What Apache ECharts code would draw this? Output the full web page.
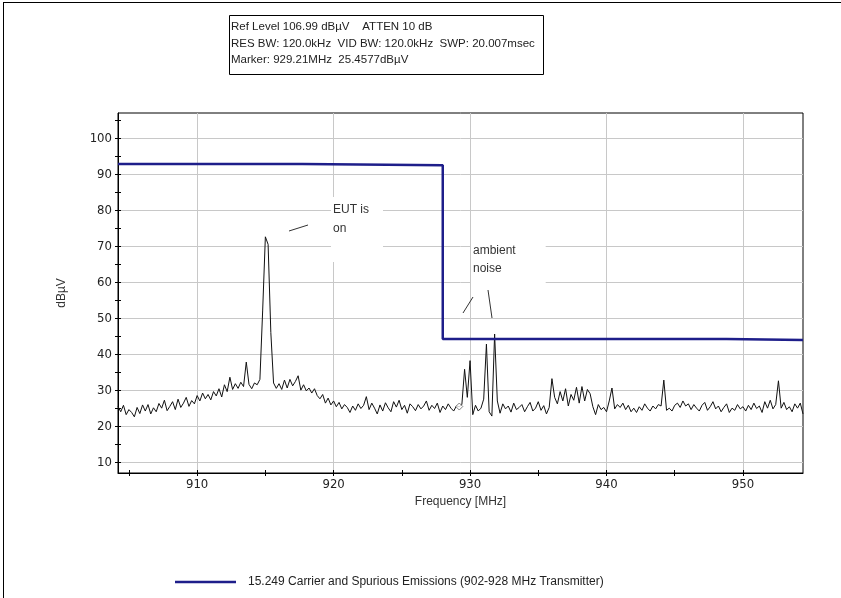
<!DOCTYPE html>
<html>
<head>
<meta charset="utf-8">
<script src="https://cdn.jsdelivr.net/npm/echarts@6/dist/echarts.min.js"></script>
<style>
  html, body { margin: 0; padding: 0; background: #fff; }
  #chart { width: 841px; height: 598px; }
</style>
</head>
<body>
<div id="chart"></div>
<script>
// sweep: 904.2 MHz .. 954.4 MHz, one reading every 0.2 MHz
const sweepStart = 904.2
const sweepStep = 0.2
const traceLevels = [
  25.5, 24.0, 25.8, 23.2, 24.6, 23.8, 22.6, 25.2, 23.5, 25.9,
  24.2, 26.0, 23.4, 25.1, 24.0, 26.3, 25.0, 27.2, 24.3, 25.5,
  26.8, 24.6, 27.5, 25.2, 26.4, 28.0, 25.5, 27.1, 26.2, 28.5,
  27.0, 29.2, 27.6, 28.8, 27.3, 29.6, 28.4, 30.4, 28.1, 31.5,
  29.6, 33.6, 30.2, 31.8, 30.5, 32.2, 31.0, 37.8, 31.6, 30.4,
  32.0, 31.5, 33.0, 52.0, 72.6, 70.5, 46.0, 32.0, 30.5, 31.8,
  30.2, 32.8, 30.6, 33.0, 31.2, 32.4, 34.0, 30.0, 31.5, 29.8,
  30.6, 29.2, 30.4, 28.5, 27.6, 28.8, 26.4, 27.8, 25.9, 27.0,
  25.4, 26.6, 24.8, 26.0, 25.2, 23.8, 25.6, 24.4, 26.2, 24.9,
  25.8, 28.2, 24.6, 26.4, 25.0, 23.4, 25.9, 24.2, 26.5, 25.1,
  24.0, 26.8, 25.3, 27.2, 24.6, 25.8, 23.6, 26.2, 25.4, 24.3,
  26.0, 24.8, 25.6, 27.0, 24.4, 25.8, 24.9, 26.4, 23.8, 25.6,
  24.6, 26.2, 25.0, 24.2, 25.6, 25.4, 26.0, 35.8, 28.0, 38.2,
  23.2, 25.8, 24.2, 25.0, 27.5, 42.8, 24.0, 22.8, 45.6, 27.0,
  23.6, 26.2, 24.8, 25.6, 23.9, 26.4, 24.6, 25.2, 26.0, 24.0,
  25.4, 26.6, 24.2, 25.0, 26.8, 24.4, 25.7, 23.4, 25.2, 33.2,
  28.0, 26.2, 29.6, 27.0, 30.4, 25.6, 28.8, 27.2, 30.8, 26.4,
  31.0, 27.0, 30.2, 29.0, 25.4, 23.2, 26.0, 24.6, 25.2, 24.0,
  27.0, 30.6, 24.8, 26.0, 25.2, 26.4, 24.6, 25.8, 24.0, 25.0,
  23.8, 25.4, 24.4, 26.2, 25.0, 24.2, 25.6, 24.8, 26.0, 25.6,
  32.8, 24.4, 25.0, 24.2, 25.8, 26.4, 25.2, 27.0, 25.6, 26.2,
  24.6, 26.0, 25.0, 24.2, 25.8, 26.6, 24.4, 25.4, 26.8, 24.8,
  25.6, 24.0, 25.2, 26.2, 23.8, 25.0, 24.4, 26.0, 24.8, 25.4,
  24.2, 25.8, 24.6, 26.4, 24.9, 25.6, 23.8, 26.8, 25.0, 27.2,
  24.8, 26.0, 32.6, 25.0, 26.6, 24.6, 25.4, 24.0, 26.2, 25.0,
  26.4, 23.4
]

const limitName = "15.249 Carrier and Spurious Emissions (902-928 MHz Transmitter)"
const limitFreqs = [904.2, 917.7, 917.7, 928.0, 928.0, 948.8, 948.8, 954.4]
const limitLevels = [92.8, 92.8, 92.5, 92.5, 44.2, 44.2, 43.9, 43.9]

const markerPoint = [929.21, 25.4577]

const freqLabels = [910, 920, 930, 940, 950]
const freqTicks = [905, 910, 915, 920, 925, 930, 935, 940, 945, 950]
const levelLabels = [10, 20, 30, 40, 50, 60, 70, 80, 90, 100]
const levelTicks = [10, 15, 20, 25, 30, 35, 40, 45, 50, 55, 60, 65, 70, 75, 80, 85, 90, 95, 100, 105]

const headerLines = [
  "Ref Level 106.99 dB\u00b5V    ATTEN 10 dB",
  "RES BW: 120.0kHz  VID BW: 120.0kHz  SWP: 20.007msec",
  "Marker: 929.21MHz  25.4577dB\u00b5V",
]

const chart = echarts.init(document.getElementById("chart"))

const traceData = traceLevels.map((v, i) => [+(sweepStart + i * sweepStep).toFixed(1), v])
const limitData = limitFreqs.map((f, i) => [f, limitLevels[i]])

const textFont = "'Liberation Sans', Arial, sans-serif"
const tickFont = "'Liberation Sans Narrow', 'DejaVu Sans Condensed', 'Liberation Sans', sans-serif"
const xMin = 904.2, xMax = 954.4
const yMin = 6.99, yMax = 106.99

const gridColor = "#c8c8c8"
const limitColor = "#1e1e8a"

const option = {
  backgroundColor: "#fff",
  animation: false,
  grid: {
    left: 118,
    right: 38,
    top: 113,
    bottom: 125,
    show: true,
    borderColor: "#000",
    borderWidth: 1,
  },
  legend: {
    data: [limitName],
    left: 170,
    top: 571,
    icon: "rect",
    itemWidth: 61,
    itemHeight: 2.5,
    textStyle: {
      fontFamily: textFont,
      fontSize: 12,
      color: "#222",
      padding: [0, 0, 0, 7],
    },
  },
  xAxis: [
    {
      type: "value",
      position: "bottom",
      min: xMin,
      max: xMax,
      name: "Frequency [MHz]",
      nameLocation: "middle",
      nameGap: 17,
      nameTextStyle: { fontFamily: textFont, fontSize: 12, color: "#333" },
      axisLine: { show: true, lineStyle: { color: "#000", width: 1 } },
      axisTick: { show: true, customValues: freqTicks, length: 3, lineStyle: { color: "#000" } },
      axisLabel: { customValues: freqLabels, margin: 5, fontFamily: tickFont, fontSize: 13, color: "#222" },
      splitLine: { show: false },
    },
    {
      type: "value",
      position: "bottom",
      min: xMin,
      max: xMax,
      axisLine: { show: false },
      axisTick: { show: false, customValues: freqLabels },
      axisLabel: { show: false },
      splitLine: { show: true, lineStyle: { color: gridColor, width: 1 } },
    },
    {
      type: "value",
      position: "bottom",
      min: xMin,
      max: xMax,
      axisLine: { show: false },
      axisTick: { show: true, inside: true, customValues: freqTicks, length: 3, lineStyle: { color: "#000" } },
      axisLabel: { show: false },
      splitLine: { show: false },
    },
  ],
  yAxis: [
    {
      type: "value",
      position: "left",
      min: yMin,
      max: yMax,
      name: "dB\u00b5V",
      nameLocation: "middle",
      nameGap: 50,
      nameTextStyle: { fontFamily: textFont, fontSize: 12, color: "#333" },
      axisLine: { show: true, lineStyle: { color: "#000", width: 1 } },
      axisTick: { show: true, customValues: levelTicks, length: 3, lineStyle: { color: "#000" } },
      axisLabel: { customValues: levelLabels, margin: 6, fontFamily: tickFont, fontSize: 13, color: "#222" },
      splitLine: { show: false },
    },
    {
      type: "value",
      position: "left",
      min: yMin,
      max: yMax,
      axisLine: { show: false },
      axisTick: { show: false, customValues: levelLabels },
      axisLabel: { show: false },
      splitLine: { show: true, lineStyle: { color: gridColor, width: 1 } },
    },
    {
      type: "value",
      position: "left",
      min: yMin,
      max: yMax,
      axisLine: { show: false },
      axisTick: { show: true, inside: true, customValues: levelTicks, length: 3, lineStyle: { color: "#000" } },
      axisLabel: { show: false },
      splitLine: { show: false },
    },
  ],
  series: [
    {
      name: "trace",
      type: "line",
      data: traceData,
      symbol: "none",
      lineStyle: { color: "#111", width: 1 },
      z: 3,
    },
    {
      name: "marker",
      type: "scatter",
      data: [markerPoint],
      symbol: "diamond",
      symbolSize: 7,
      itemStyle: { color: "#fff", borderColor: "#666", borderWidth: 1 },
      z: 4,
    },
    {
      name: limitName,
      type: "line",
      data: limitData,
      symbol: "none",
      color: limitColor,
      lineStyle: { color: limitColor, width: 2.5 },
      z: 5,
    },
  ],
  graphic: [
    // outer frame (top + left edge)
    { type: "line", shape: { x1: 3, y1: 2.5, x2: 841, y2: 2.5 }, style: { stroke: "#000", lineWidth: 1 } },
    { type: "line", shape: { x1: 3.5, y1: 2, x2: 3.5, y2: 598 }, style: { stroke: "#000", lineWidth: 1 } },
    // instrument settings box
    {
      type: "rect",
      shape: { x: 229.5, y: 15.5, width: 314, height: 59 },
      style: { fill: "#fff", stroke: "#000", lineWidth: 1 },
    },
    {
      type: "text",
      left: 231,
      top: 19,
      style: {
        text: headerLines.join("\n"),
        font: "11.5px 'Liberation Sans', Arial, sans-serif",
        lineHeight: 16.5,
        fill: "#222",
      },
    },
    // "EUT is on" note
    {
      type: "text",
      left: 331,
      top: 197,
      z: 10,
      style: {
        text: "EUT is\non",
        font: "12px 'Liberation Sans', Arial, sans-serif",
        lineHeight: 19,
        fill: "#333",
        backgroundColor: "#fff",
        padding: [3, 14, 24, 2],
      },
    },
    { type: "line", z: 10, shape: { x1: 289, y1: 231, x2: 308, y2: 225 }, style: { stroke: "#333", lineWidth: 1 } },
    // "ambient noise" note
    {
      type: "text",
      left: 471,
      top: 240,
      z: 10,
      style: {
        text: "ambient\nnoise",
        font: "12px 'Liberation Sans', Arial, sans-serif",
        lineHeight: 18,
        fill: "#333",
        backgroundColor: "#fff",
        padding: [2, 30, 14, 2],
      },
    },
    { type: "line", z: 10, shape: { x1: 463, y1: 313, x2: 473, y2: 297 }, style: { stroke: "#333", lineWidth: 1 } },
    { type: "line", z: 10, shape: { x1: 488, y1: 290, x2: 492, y2: 318 }, style: { stroke: "#333", lineWidth: 1 } },
  ],
}

chart.setOption(option)
</script>
</body>
</html>
